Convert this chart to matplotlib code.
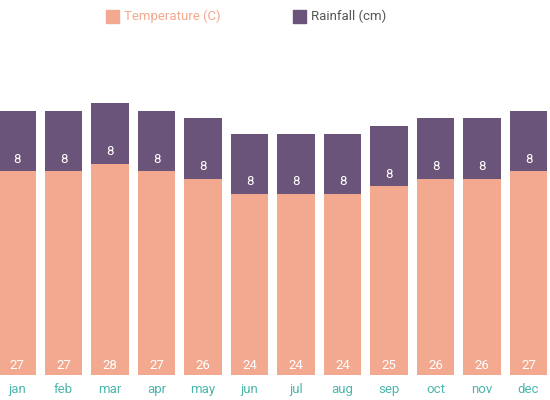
import matplotlib
matplotlib.use("Agg")
import matplotlib.pyplot as plt

months = ["jan","feb","mar","apr","may","jun","jul","aug","sep","oct","nov","dec"]
temperature = [27,27,28,27,26,24,24,24,25,26,26,27]
rainfall = [8]*12

plt.rcParams['font.family'] = ['Roboto', 'DejaVu Sans']
fig = plt.figure(figsize=(5.5,4), dpi=100)
ax = fig.add_axes([0, 25/400, 1, 375/400])
tc, rc = "#F2A98F", "#6B5479"
x = range(len(months))
ax.bar(x, temperature, width=0.8, color=tc)
ax.bar(x, rainfall, width=0.8, bottom=temperature, color=rc)
for i,(t,r) in enumerate(zip(temperature, rainfall)):
    ax.text(i, 1.2, str(t), ha='center', va='center', color='white', fontsize=9.5)
    ax.text(i, t+1.6, str(r), ha='center', va='center', color='white', fontsize=9.5)
ax.set_xlim(-0.366, 11.46)
ax.set_ylim(0, 49.7)
ax.axhline(0, color='#999999', lw=0.8, ls=(0,(1,2)))
for s in ax.spines.values(): s.set_visible(False)
ax.set_yticks([])
ax.set_xticks(list(x))
ax.set_xticklabels(months, color="#4DB6AC", fontsize=9.5)
ax.tick_params(axis='x', length=0, pad=6)
# legend
fig.patches.append(plt.Rectangle((106/550, 1-23/400), 13/550, 13/400, transform=fig.transFigure, color=tc))
fig.text(124/550, 1-16/400, "Temperature (C)", color=tc, fontsize=9.5, va='center')
fig.patches.append(plt.Rectangle((293/550, 1-23/400), 13/550, 13/400, transform=fig.transFigure, color=rc))
fig.text(311/550, 1-16/400, "Rainfall (cm)", color="#555555", fontsize=9.5, va='center')
fig.savefig("out.png", dpi=100)
